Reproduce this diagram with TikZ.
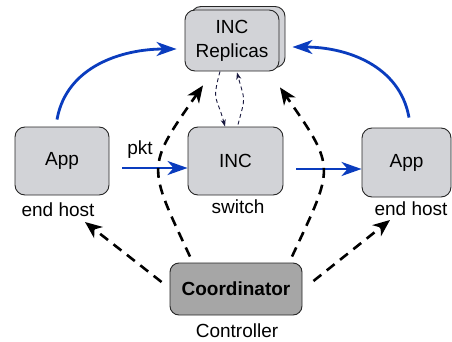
\documentclass[tikz,border=0pt]{standalone}
\usepackage{fontspec}
\setmainfont{Liberation Sans}
\usetikzlibrary{arrows.meta}
\definecolor{boxfill}{HTML}{D2D3D7}
\definecolor{coordfill}{HTML}{A6A6A6}
\definecolor{arrblue}{HTML}{0A3CBE}
\definecolor{navy}{HTML}{1A1A40}
\tikzset{
  every node/.style={font=\fontsize{19}{24}\selectfont},
  box/.style={draw=black!85, line width=0.9pt, fill=boxfill, rounded corners=10pt, inner sep=0pt},
  cbox/.style={draw=black!85, line width=0.9pt, fill=coordfill, rounded corners=9pt, inner sep=0pt, minimum width=132pt, minimum height=52pt},
  lbl/.style={anchor=base, inner sep=0pt},
  bluearr/.style={draw=arrblue, line width=2.8pt, -{Stealth[length=20pt,width=14pt,inset=6pt]}},
  ctrl/.style={draw=black, line width=2.6pt, dash pattern=on 10pt off 7pt, -{Stealth[length=17pt,width=14pt,inset=5pt]}},
  sync/.style={draw=navy, line width=0.9pt, dash pattern=on 4pt off 3pt, -{Stealth[length=7pt,width=5pt,inset=2pt]}}
}
\begin{document}
\begin{tikzpicture}[x=1pt,y=1pt]
\useasboundingbox (0,0) rectangle (452,341);
% nodes
\node[box, minimum width=94pt, minimum height=61pt] (repb) at (238,304) {};
\node[box, minimum width=94pt, minimum height=61pt, align=center] (rep) at (232,300.5) {INC\\Replicas};
\node[box, minimum width=94pt, minimum height=68pt] (appL) at (62,180) {App};
\node[box, minimum width=95pt, minimum height=68pt] (inc) at (235.5,180) {INC};
\node[box, minimum width=89pt, minimum height=69pt] (appR) at (406.5,178.5) {App};
\node[cbox] (coord) at (236,52) {\bfseries Coordinator};
% labels
\node[lbl] (lL) at (58,125) {end host};
\node[lbl] (lS) at (238,128) {switch};
\node[lbl] (lR) at (411,126) {end host};
\node[lbl] (lC) at (237,4) {Controller};
\node[lbl] (lP) at (140,187) {pkt};
% helper coordinates
\coordinate (bLs) at ([shift={(-5,7)}]appL.north);
\coordinate (bLe) at ([shift={(-8,-8.5)}]rep.west);
\coordinate (bRs) at ([shift={(2.5,10)}]appR.north);
\coordinate (bRe) at ([shift={(7,-10)}]repb.east);
\coordinate (dLs) at ([shift={(-8,7)}]coord.west);
\coordinate (dLe) at (85,119);
\coordinate (dRs) at ([shift={(11,8)}]coord.east);
\coordinate (dRe) at (390,121);
\coordinate (aLs) at ([shift={(-46,6)}]coord.north);
\coordinate (aLe) at ([shift={(-29,-14)}]rep.south);
\coordinate (aRs) at ([shift={(56,6)}]coord.north);
\coordinate (aRe) at ([shift={(48,-16)}]rep.south);
% blue arrows
\draw[bluearr] ([shift={(13,-7)}]appL.east) -- ([yshift=-7pt]inc.west);
\draw[bluearr] ([shift={(13,-8)}]inc.east) -- ([yshift=-6.5pt]appR.west);
\draw[bluearr] (bLs) to[out=80,in=180] (bLe);
\draw[bluearr] (bRs) to[out=100,in=0] (bRe);
% controller arrows
\draw[ctrl] (dLs) -- (dLe);
\draw[ctrl] (dRs) -- (dRe);
\draw[ctrl] (aLs) to[out=115,in=-125,looseness=1.5] (aLe);
\draw[ctrl] (aRs) to[out=65,in=-55,looseness=1.5] (aRe);
% sync arrows
\draw[sync] ([xshift=-12pt]rep.south) to[out=-105,in=105,looseness=1.5] ([shift={(-10.5,0)}]inc.north);
\draw[sync] ([shift={(2.5,2)}]inc.north) to[out=75,in=-75,looseness=1.5] ([shift={(5,-1)}]rep.south);
\end{tikzpicture}
\end{document}
